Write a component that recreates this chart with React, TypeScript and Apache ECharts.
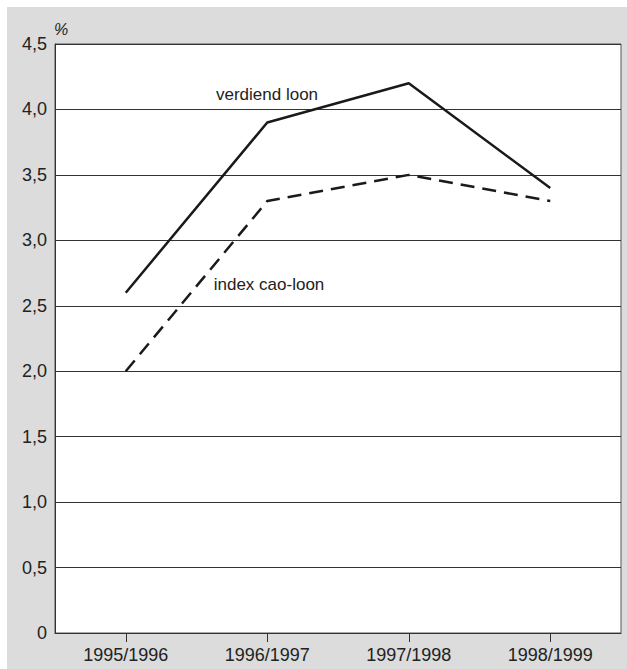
import React, { useEffect, useRef } from "react";
import * as echarts from "echarts";

const categories = ["1995/1996", "1996/1997", "1997/1998", "1998/1999"];
const verdiendLoon = [2.6, 3.9, 4.2, 3.4];
const indexCaoLoon = [2.0, 3.3, 3.5, 3.3];
const seriesNames = ["verdiend loon", "index cao-loon"];

export default function App() {
  const ref = useRef<HTMLDivElement>(null);
  useEffect(() => {
    if (!ref.current) return;
    const chart = echarts.init(ref.current, null, { renderer: "svg" });
    const font = "'Liberation Sans', Arial, sans-serif";
    chart.setOption({
      animation: false,
      graphic: [
        {
          type: "rect",
          z: -10,
          silent: true,
          shape: { x: 7, y: 7, width: 620, height: 662 },
          style: { fill: "#dcdcdc" },
        },
        {
          type: "text",
          left: 54,
          top: 21,
          style: { text: "%", font: `italic 16px ${font}`, fill: "#222" },
        },
        {
          type: "text",
          x: 267,
          y: 94,
          style: {
            text: seriesNames[0],
            font: `17px ${font}`,
            fill: "#222",
            align: "center",
            verticalAlign: "middle",
          },
        },
        {
          type: "text",
          x: 269,
          y: 284,
          style: {
            text: seriesNames[1],
            font: `17px ${font}`,
            fill: "#222",
            align: "center",
            verticalAlign: "middle",
          },
        },
      ],
      grid: {
        left: 55,
        right: 6,
        top: 44,
        bottom: 36,
        show: true,
        backgroundColor: "#ffffff",
        borderColor: "#555",
        borderWidth: 1,
      },
      xAxis: {
        type: "category",
        data: categories,
        boundaryGap: true,
        axisLine: { show: true, lineStyle: { color: "#333", width: 1 } },
        axisTick: { show: true, alignWithLabel: true, length: 9, lineStyle: { color: "#333" } },
        axisLabel: { fontSize: 18, fontFamily: font, color: "#222", margin: 13 },
        splitLine: { show: false },
      },
      yAxis: {
        type: "value",
        min: 0,
        max: 4.5,
        interval: 0.5,
        axisLine: { show: true, lineStyle: { color: "#333" } },
        axisTick: { show: false },
        axisLabel: {
          fontSize: 18,
          fontFamily: font,
          color: "#222",
          margin: 8,
          formatter: (v: number) => (v === 0 ? "0" : v.toFixed(1).replace(".", ",")),
        },
        splitLine: { show: true, lineStyle: { color: "#333", width: 1 } },
      },
      series: [
        {
          name: seriesNames[0],
          type: "line",
          data: verdiendLoon,
          symbol: "none",
          lineStyle: { color: "#1a1a1a", width: 2.5 },
          z: 5,
        },
        {
          name: seriesNames[1],
          type: "line",
          data: indexCaoLoon,
          symbol: "none",
          lineStyle: { color: "#1a1a1a", width: 2.5, type: [14, 8] },
          z: 5,
        },
      ],
    });
    return () => chart.dispose();
  }, []);
  return (
    <div
      ref={ref}
      style={{ position: "absolute", left: 0, top: 0, width: 627, height: 669, background: "#fff" }}
    />
  );
}
